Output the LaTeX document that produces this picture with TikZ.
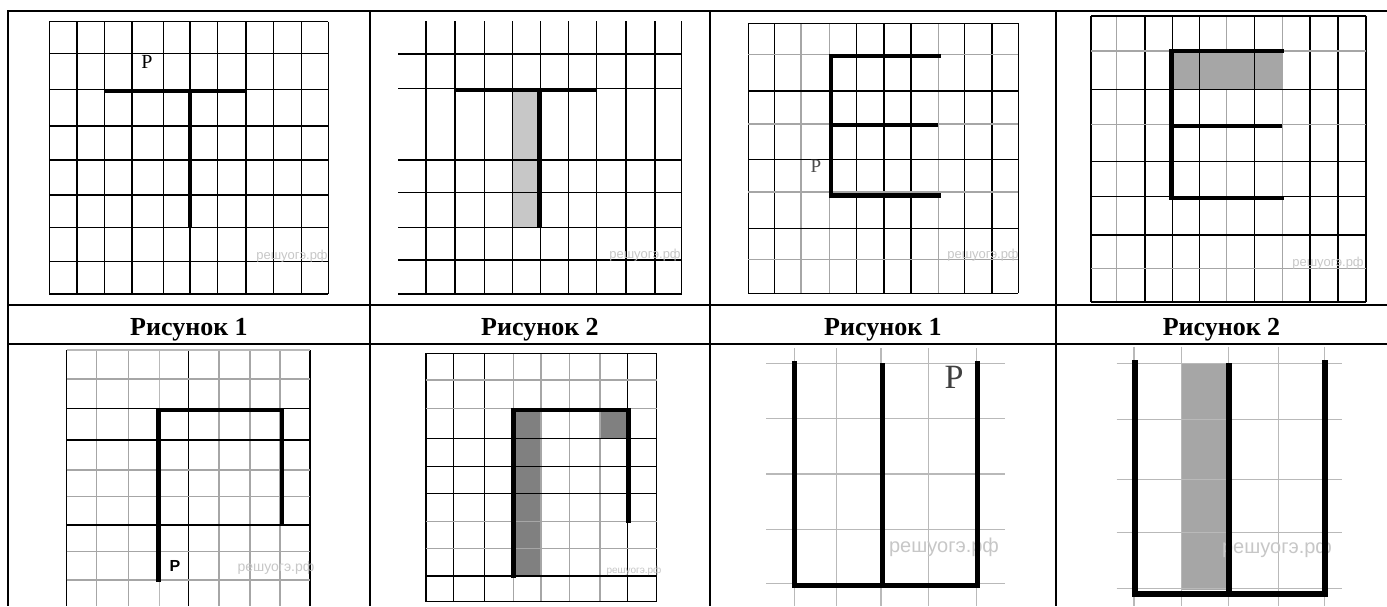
\documentclass[tikz,border=0pt]{standalone}
\usepackage{fontspec}
\setmainfont{Liberation Serif}
\newfontfamily\wmfont{Liberation Sans}
\begin{document}
\begin{tikzpicture}[x=1pt,y=-1pt,
  tableline/.style={line width=2pt,black},
  gl/.style={line width=1.3pt,black},
  gg/.style={line width=1.3pt,gray!70},
  lg/.style={line width=1.2pt,gray!55},
  thick line/.style={line width=4.5pt,black},
  shadelight/.style={fill=black!22!white},
  shadedark/.style={fill=black!50!white},
  shademid/.style={fill=black!35!white},
  wm/.style={text=black!22,font=\wmfont\fontsize{13}{13}\selectfont,inner sep=0pt},
  lbl/.style={font=\bfseries\fontsize{26}{26}\selectfont,anchor=base,inner sep=0pt}]
\useasboundingbox (0,0) rectangle (1387,606);
\fill[white] (0,0) rectangle (1387,606);

% ---------- Panel 1 ----------
\foreach \x in {49.3,77,104.3,132,163.7,190,217.3,246,273.3,301.3,328.3}
  \draw[gl] (\x,21.7) -- (\x,294);
\foreach \y in {21.7,53.3,89.3,126,160,195,227.3,261.7,294}
  \draw[gl] (49.3,\y) -- (328.3,\y);
\draw[thick line] (104,91) -- (246,91);
\draw[thick line] (190,91) -- (190,227);
\node[font=\fontsize{20}{20}\selectfont,inner sep=0pt] (p1) at (147,62) {P};
\node[wm] (w1) at (292,256) {решуогэ.рф};

% ---------- Panel 2 ----------
\fill[shadelight] (513.3,90) rectangle (536.7,226.7);
\foreach \x in {426,455,484.3,512.7,540.7,568.3,596.7,626,655,681.7}
  \draw[gl] (\x,21) -- (\x,294);
\foreach \y in {54,88.3,160,192.7,227.3,260,294}
  \draw[gl] (398.3,\y) -- (681.7,\y);
\draw[thick line] (455,90) -- (596.7,90);
\draw[thick line] (539.3,90) -- (539.3,226.7);
\node[wm] (w2) at (645,255) {решуогэ.рф};

% ---------- Panel 3 ----------
\foreach \x/\s in {748.3/gl,774.3/gl,801/gg,829.3/gg,856.7/gl,884/gl,911/gl,938.3/gg,964.3/gl,1018.3/gl}
  \draw[\s] (\x,23.3) -- (\x,293.3);
\draw[line width=2.3pt] (992.3,23.3) -- (992.3,293.3);
\foreach \y/\s in {23.3/gl,54.3/gg,91/gl,159.3/gl,228.3/gl,259.3/gg,293.3/gl}
  \draw[\s] (748.3,\y) -- (1018.3,\y);
\foreach \y in {124.3,191.7}
  \draw[line width=2pt,gray!70] (748.3,\y) -- (1018.3,\y);
\draw[thick line,line cap=rect] (938.3,56) -- (831,56) -- (831,195.3) -- (938.3,195.3);
\draw[thick line] (831,125) -- (938.3,125);
\node[font=\fontsize{19}{19}\selectfont,inner sep=0pt,text=black!70] (p3) at (816,166) {P};
\node[wm] (w3) at (983,255) {решуогэ.рф};

% ---------- Panel 4 ----------
\fill[shademid] (1172,51) rectangle (1282,89.3);
\foreach \x/\s in {1116.7/gg,1145/gl,1172.3/gl,1199.3/gl,1226.7/gg,1254.3/gl,1282.7/gg,1310/gl}
  \draw[\s] (\x,15.7) -- (\x,301.7);
\foreach \x in {1091,1338.3,1366}
  \draw[line width=2pt] (\x,15.7) -- (\x,301.7);
\foreach \y/\s in {51/gg,89.3/gl,124.3/gg,161.7/gl,196.7/gl,268.3/gg}
  \draw[\s] (1091,\y) -- (1366,\y);
\foreach \y in {15.7,235,301.7}
  \draw[line width=2pt] (1091,\y) -- (1366,\y);
\draw[thick line,line cap=rect] (1281.7,51) -- (1171.7,51) -- (1171.7,198) -- (1281.7,198);
\draw[thick line] (1171.7,126) -- (1281.7,126);
\node[wm] (w4) at (1328,263) {решуогэ.рф};

% ---------- Panel 5 ----------
\foreach \x/\s in {66.7/gl,96.7/gg,128.3/gg,159.3/lg,188.3/gl,219/gg,250/gg,280/gg,310/gl}
  \draw[\s] (\x,350) -- (\x,606);
\foreach \y/\s in {350/lg,379/gg,408.3/gl,440/gl,470/gg,496.7/gg,525/gl,551.7/gg,580/gg}
  \draw[\s] (66.7,\y) -- (310,\y);
\draw[thick line,line cap=rect] (158.3,580) -- (158.3,410) -- (282,410) -- (282,524);
\node[font=\wmfont\bfseries\fontsize{16}{16}\selectfont,inner sep=0pt] (p5) at (175,566) {P};
\node[wm,font=\wmfont\fontsize{14}{14}\selectfont] (w5) at (276,568) {решуогэ.рф};

% ---------- Panel 6 ----------
\fill[shadedark] (513.3,410) rectangle (540.7,576);
\fill[shadedark] (600,410) rectangle (628,437.7);
\foreach \x/\s in {426/gl,453.3/gl,484.3/gl,513.3/gg,541/gg,569.3/gg,600/gg,627.7/gl,656.7/gl}
  \draw[\s] (\x,353.3) -- (\x,601.7);
\foreach \y/\s in {353.3/gl,380/gg,408.3/gg,438.3/gl,466.7/gl,493.3/gl,521.7/gg,548.3/gg,576/gl,601.7/gl}
  \draw[\s] (426,\y) -- (656.7,\y);
\draw[thick line,line cap=rect] (513.3,576) -- (513.3,410) -- (628.3,410) -- (628.3,520.7);
\node[wm,font=\wmfont\fontsize{10}{10}\selectfont] (w6) at (634,571) {решуогэ.рф};

% ---------- Panel 7 ----------
\foreach \x in {794.3,836.7,881,928.3,976.7}
  \draw[lg] (\x,348.3) -- (\x,606);
\foreach \y in {363.3,418.3,474,529.3,583.3}
  \draw[lg] (766,\y) -- (1005,\y);
\node[wm,font=\wmfont\fontsize{20}{20}\selectfont] (w7) at (944,547) {решуогэ.рф};
\draw[line width=5pt,line cap=rect] (794,363) -- (794,585) -- (977.7,585) -- (977.7,363);
\draw[line width=5pt] (882,363) -- (882,585);
\node[font=\fontsize{34}{34}\selectfont,inner sep=0pt,text=black!75] (p7) at (954,377) {P};

% ---------- Panel 8 ----------
\fill[shademid] (1181.7,363) rectangle (1228.3,590);
\foreach \x in {1134,1181.7,1228.3,1278.3,1324.3}
  \draw[lg] (\x,346.7) -- (\x,606);
\foreach \y in {363.3,419.3,479.3,532.7,588.7}
  \draw[lg] (1116.7,\y) -- (1341.7,\y);
\node[wm,font=\wmfont\fontsize{20}{20}\selectfont] (w8) at (1277,548) {решуогэ.рф};
\draw[line width=6pt,line cap=rect] (1135,363) -- (1135,594) -- (1325,594) -- (1325,363);
\draw[line width=6pt] (1229.3,363) -- (1229.3,594);

% ---------- Table ----------
\draw[tableline] (8,11) -- (1387,11);
\draw[tableline] (8,305) -- (1387,305);
\draw[tableline] (8,344) -- (1387,344);
\foreach \x in {8,370,710,1056}
  \draw[tableline] (\x,10) -- (\x,606);
\node[lbl] (l1) at (189,335) {Рисунок 1};
\node[lbl] (l2) at (540,335) {Рисунок 2};
\node[lbl] (l3) at (883,335) {Рисунок 1};
\node[lbl] (l4) at (1221.5,335) {Рисунок 2};
\end{tikzpicture}
\end{document}
